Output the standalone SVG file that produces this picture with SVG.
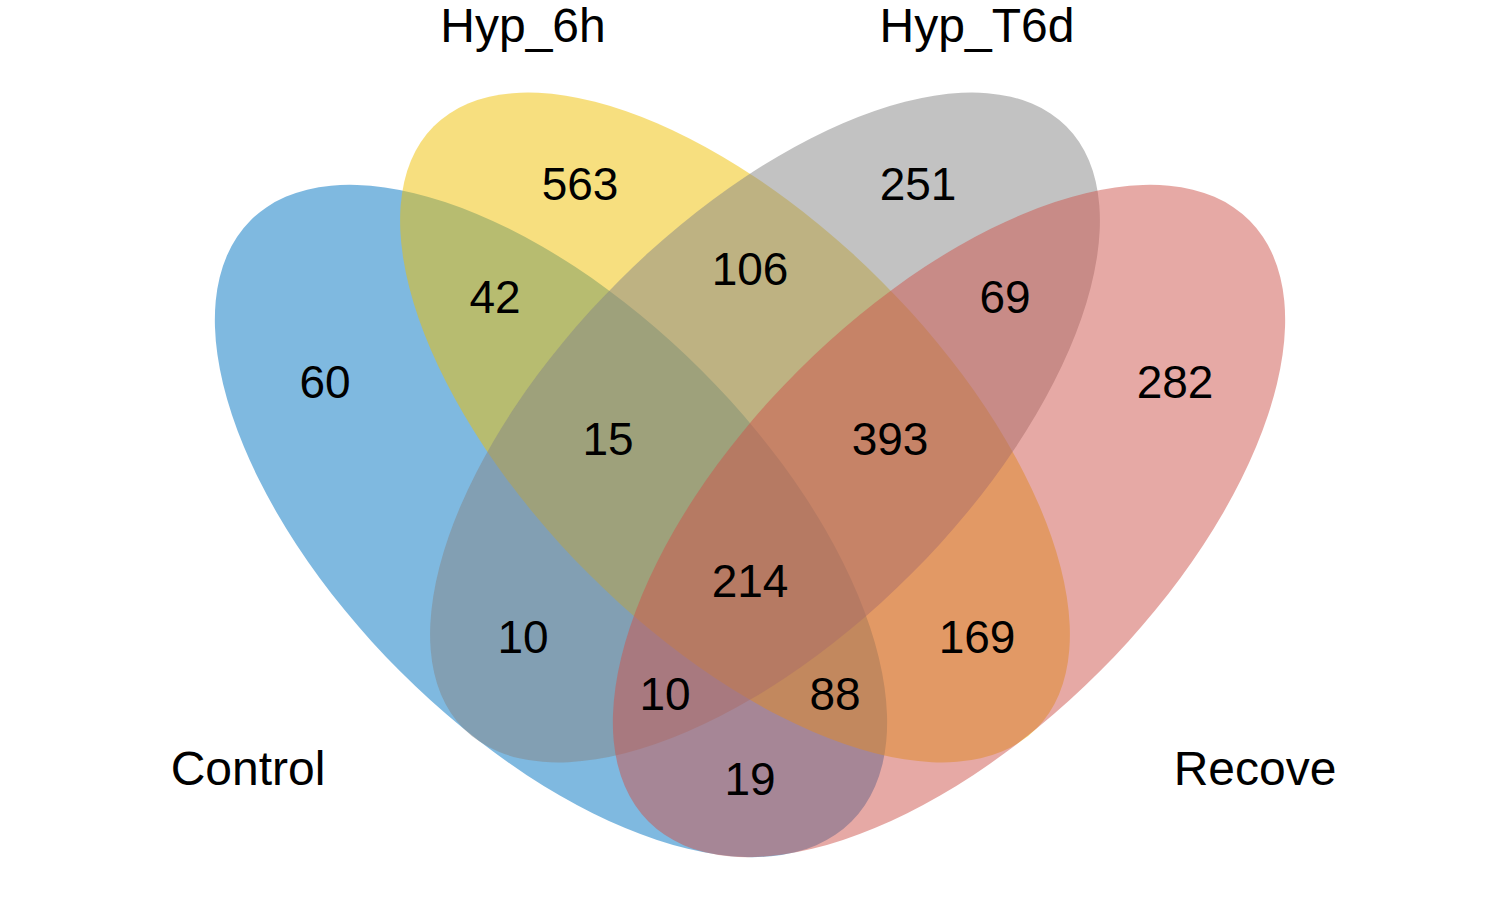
<svg xmlns="http://www.w3.org/2000/svg" width="1500" height="900" viewBox="0 0 1500 900">
<style>
.n{font-family:"Liberation Sans",Arial,sans-serif;font-size:46px;fill:#000;text-anchor:middle}
.l{font-family:"Liberation Sans",Arial,sans-serif;font-size:48px;fill:#000;text-anchor:middle}
</style>
<rect width="1500" height="900" fill="#fff"/>
<g id="sets">
<g id="control"><ellipse cx="551" cy="521" rx="425" ry="213" transform="rotate(45 551 521)" fill="#0073C2" fill-opacity="0.5"/></g>
<g id="hyp6h"><ellipse cx="735" cy="427.5" rx="426" ry="207" transform="rotate(45 735 427.5)" fill="#EFC000" fill-opacity="0.5"/></g>
<g id="hypT6d"><ellipse cx="765" cy="427.5" rx="426" ry="207" transform="rotate(-45 765 427.5)" fill="#868686" fill-opacity="0.5"/></g>
<g id="recove"><ellipse cx="949" cy="521" rx="425" ry="213" transform="rotate(-45 949 521)" fill="#CD534C" fill-opacity="0.5"/></g>
</g>
<g id="connectors"/>
<g id="counts">
<text class="n" x="580" y="200">563</text>
<text class="n" x="918" y="200">251</text>
<text class="n" x="495" y="313">42</text>
<text class="n" x="750" y="285">106</text>
<text class="n" x="1005" y="313">69</text>
<text class="n" x="325" y="398">60</text>
<text class="n" x="1175" y="398">282</text>
<text class="n" x="608" y="455">15</text>
<text class="n" x="890" y="455">393</text>
<text class="n" x="750" y="597">214</text>
<text class="n" x="523" y="653">10</text>
<text class="n" x="977" y="653">169</text>
<text class="n" x="665" y="710">10</text>
<text class="n" x="835" y="710">88</text>
<text class="n" x="750" y="795">19</text>
</g>
<g id="labels">
<text class="l" x="523" y="42">Hyp_6h</text>
<text class="l" x="977" y="42">Hyp_T6d</text>
<text class="l" x="248" y="785">Control</text>
<text class="l" x="1255" y="785">Recove</text>
</g>
</svg>
